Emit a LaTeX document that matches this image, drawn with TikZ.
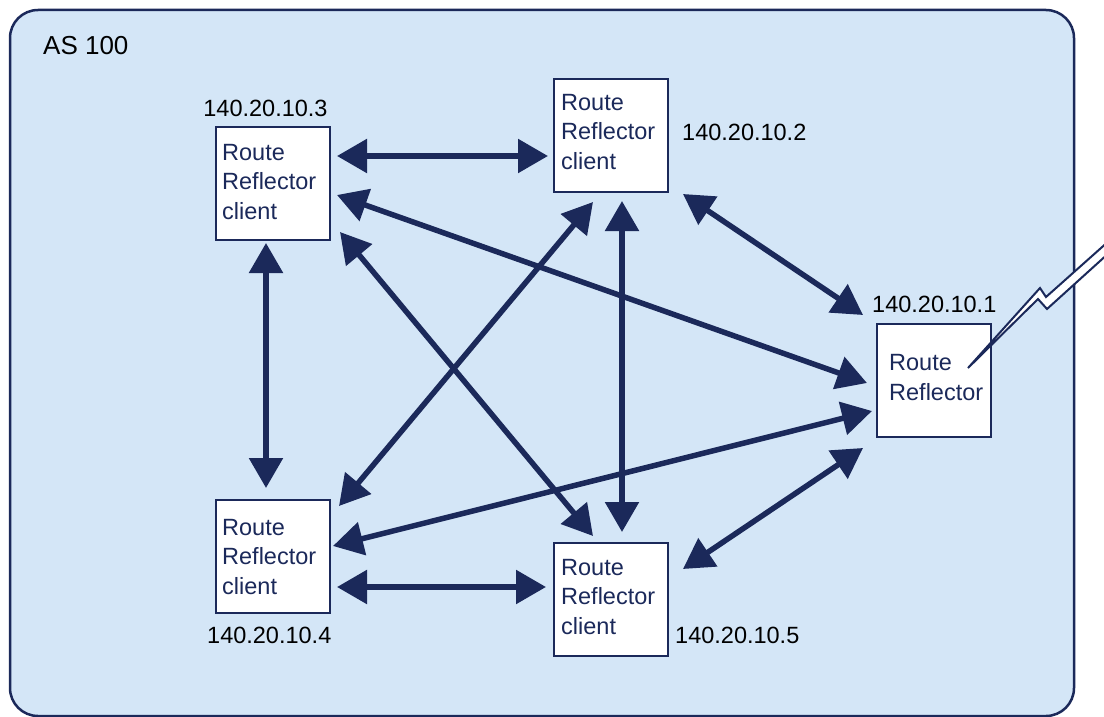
\documentclass[tikz,border=0pt]{standalone}
\usepackage{fontspec}
\setmainfont{Liberation Sans}
\usetikzlibrary{arrows.meta}
\definecolor{navy}{RGB}{27,41,90}
\definecolor{asblue}{RGB}{212,230,247}
\tikzset{
  router/.style={draw=navy, line width=2.4pt, fill=white, minimum width=114pt,
    minimum height=113pt, inner sep=0pt, anchor=north west},
  routertext/.style={text=navy, align=left, anchor=base west, inner sep=0pt,
    font=\fontsize{23.5}{29.5}\selectfont},
  addr/.style={text=black, inner sep=0pt, font=\fontsize{23.5}{28}\selectfont},
  peering/.style={draw=navy, line width=5.5pt,
    {Triangle[length=30pt,width=33pt]}-{Triangle[length=30pt,width=33pt]}},
}
\begin{document}
\begin{tikzpicture}[x=1pt,y=-1pt]
\useasboundingbox (0,0) rectangle (1104,717);
% autonomous system area
\draw[navy, line width=2.5pt, fill=asblue, rounded corners=28pt] (10,10) rectangle (1074,716);
\node[anchor=base west, inner sep=0pt, font=\fontsize{26}{30}\selectfont] (as) at (43,55) {AS 100};

% routers
\node[router] (n3) at (215,126) {};
\node[router] (n2) at (553,78) {};
\node[router] (n1) at (876,323) {};
\node[router] (n4) at (215,499) {};
\node[router] (n5) at (553,542) {};

% router captions (anchored at the baseline of their last line)
\node[routertext] (t3) at ([shift={(7,93)}]n3.north west) {Route\\Reflector\\client};
\node[routertext] (t2) at ([shift={(8,91)}]n2.north west) {Route\\Reflector\\client};
\node[routertext] (t1) at ([shift={(13,77)}]n1.north west) {Route\\Reflector};
\node[routertext] (t4) at ([shift={(7,95)}]n4.north west) {Route\\Reflector\\client};
\node[routertext] (t5) at ([shift={(8,92)}]n5.north west) {Route\\Reflector\\client};

% addresses
\node[addr, anchor=base] (a3) at (265.5,117) {140.20.10.3};
\node[addr, anchor=base west] (a2) at (682,140) {140.20.10.2};
\node[addr, anchor=base west] (a1) at (872,312) {140.20.10.1};
\node[addr, anchor=base west] (a4) at (207,643) {140.20.10.4};
\node[addr, anchor=base west] (a5) at (675,643) {140.20.10.5};

% iBGP sessions
\draw[peering] ([shift={(122,30)}]n3.north west) -- ([shift={(-5,78)}]n2.north west);
\draw[peering] ([shift={(51,117)}]n3.north west) -- ([shift={(51,-11)}]n4.north west);
\draw[peering] ([shift={(122,88)}]n4.north west) -- ([shift={(-7,45)}]n5.north west);
\draw[peering] ([shift={(69,123)}]n2.north west) -- ([shift={(69,-10)}]n5.north west);
\draw[peering] ([shift={(125,106)}]n3.north west) -- ([shift={(40,-6)}]n5.north west);
\draw[peering] ([shift={(40,124)}]n2.north west) -- ([shift={(124,7)}]n4.north west);
\draw[peering] ([shift={(122,69)}]n3.north west) -- ([shift={(-9,60)}]n1.north west);
\draw[peering] ([shift={(118,47)}]n4.north west) -- ([shift={(-4,88)}]n1.north west);
\draw[peering] ([shift={(130,116)}]n2.north west) -- ([shift={(-13,-8)}]n1.north west);
\draw[peering] ([shift={(130,27)}]n5.north west) -- ([shift={(-13,125)}]n1.north west);

% external link (lightning bolt)
\draw[navy, line width=2pt, fill=white, line join=miter]
  ([shift={(92,45)}]n1.north west) -- (1040,288) -- (1046,297) -- (1110,240)
  -- (1110,252) -- (1047,309) -- (1038,299) -- cycle;
\end{tikzpicture}
\end{document}
